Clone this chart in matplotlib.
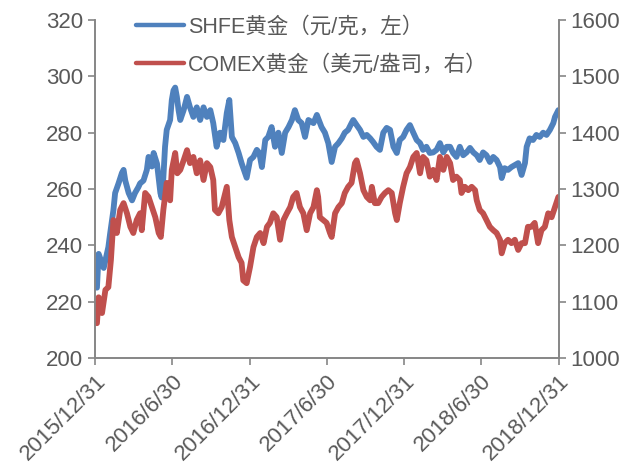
import pandas as pd
import matplotlib
matplotlib.use("Agg")
import matplotlib.pyplot as plt

plt.rcParams['font.family'] = ['Liberation Sans', 'Noto Sans CJK SC', 'DejaVu Sans']

# SHFE gold, yuan/gram (left axis)
shfe_dates = [
    "2016-01-04", "2016-01-08", "2016-01-20", "2016-01-31", "2016-02-04", "2016-02-12",
    "2016-02-16", "2016-02-24", "2016-03-03", "2016-03-07", "2016-03-11", "2016-03-19",
    "2016-03-27", "2016-04-03", "2016-04-11", "2016-04-15", "2016-04-23", "2016-05-01",
    "2016-05-05", "2016-05-13", "2016-05-17", "2016-05-25", "2016-06-02", "2016-06-05",
    "2016-06-09", "2016-06-13", "2016-06-17", "2016-06-25", "2016-06-29", "2016-07-03",
    "2016-07-07", "2016-07-11", "2016-07-15", "2016-07-19", "2016-07-27", "2016-08-04",
    "2016-08-11", "2016-08-19", "2016-08-27", "2016-09-04", "2016-09-12", "2016-09-20",
    "2016-09-28", "2016-10-05", "2016-10-13", "2016-10-21", "2016-10-29", "2016-11-06",
    "2016-11-12", "2016-11-18", "2016-11-26", "2016-12-04", "2016-12-11", "2016-12-19",
    "2016-12-23", "2016-12-31", "2017-01-08", "2017-01-16", "2017-01-22", "2017-01-28",
    "2017-02-05", "2017-02-12", "2017-02-20", "2017-02-28", "2017-03-08", "2017-03-16",
    "2017-03-24", "2017-04-01", "2017-04-09", "2017-04-16", "2017-04-24", "2017-05-02",
    "2017-05-10", "2017-05-18", "2017-05-30", "2017-06-07", "2017-06-18", "2017-06-26",
    "2017-07-04", "2017-07-12", "2017-07-20", "2017-07-28", "2017-08-05", "2017-08-12",
    "2017-08-20", "2017-08-28", "2017-09-01", "2017-09-09", "2017-09-17", "2017-09-25",
    "2017-10-03", "2017-10-11", "2017-10-18", "2017-10-26", "2017-11-03", "2017-11-11",
    "2017-11-19", "2017-11-27", "2017-12-05", "2017-12-13", "2017-12-20", "2017-12-28",
    "2018-01-05", "2018-01-13", "2018-01-21", "2018-01-29", "2018-02-06", "2018-02-13",
    "2018-02-21", "2018-03-01", "2018-03-09", "2018-03-17", "2018-03-25", "2018-04-02",
    "2018-04-10", "2018-04-18", "2018-04-25", "2018-05-03", "2018-05-11", "2018-05-19",
    "2018-05-27", "2018-06-04", "2018-06-12", "2018-06-20", "2018-06-27", "2018-07-05",
    "2018-07-13", "2018-07-21", "2018-07-29", "2018-08-06", "2018-08-14", "2018-08-18",
    "2018-08-25", "2018-09-02", "2018-09-10", "2018-09-18", "2018-09-26", "2018-10-04",
    "2018-10-12", "2018-10-16", "2018-10-23", "2018-10-31", "2018-11-08", "2018-11-16",
    "2018-11-24", "2018-12-02", "2018-12-10", "2018-12-18", "2018-12-22", "2018-12-30",
]
shfe_values = [
    225.0, 237.0, 232.0, 239.4, 244.0, 252.6,
    258.6, 262.0, 265.7, 266.8, 263.0, 258.6,
    256.0, 258.6, 260.7, 262.0, 263.0, 266.8,
    271.4, 268.0, 272.8, 269.0, 258.6, 257.0,
    264.0, 275.0, 281.0, 284.5, 291.6, 295.0,
    296.0, 292.7, 288.0, 284.5, 288.0, 292.7,
    289.0, 285.6, 289.0, 284.5, 289.0, 285.6,
    288.0, 283.4, 275.0, 280.0, 277.4, 287.0,
    291.6, 278.5, 276.3, 272.8, 269.2, 265.7,
    264.0, 270.3, 271.4, 273.9, 272.8, 267.8,
    277.4, 278.5, 282.0, 275.0, 280.0, 272.8,
    280.0, 282.0, 284.5, 288.0, 284.5, 283.4,
    278.5, 284.5, 283.4, 286.3, 282.0, 280.0,
    276.3, 269.6, 275.0, 276.3, 278.0, 280.0,
    281.0, 283.4, 284.5, 282.7, 281.0, 278.5,
    279.2, 278.0, 276.7, 275.0, 273.9, 280.0,
    281.7, 281.0, 275.0, 272.8, 277.4, 278.5,
    281.0, 282.7, 280.0, 277.4, 276.3, 273.9,
    275.0, 272.8, 273.0, 273.9, 276.3, 273.0,
    275.0, 275.0, 272.8, 271.4, 275.0, 272.0,
    273.0, 274.6, 273.0, 272.0, 270.3, 273.0,
    272.0, 269.6, 271.4, 270.3, 267.8, 263.9,
    267.4, 266.8, 267.8, 268.5, 269.2, 265.0,
    269.2, 275.0, 278.0, 277.4, 279.2, 278.5,
    280.0, 279.2, 281.0, 283.4, 285.6, 288.0,
]

# COMEX gold, USD/oz (right axis)
comex_dates = [
    "2016-01-04", "2016-01-08", "2016-01-16", "2016-01-24", "2016-01-31", "2016-02-06",
    "2016-02-12", "2016-02-20", "2016-02-28", "2016-03-07", "2016-03-15", "2016-03-23",
    "2016-03-30", "2016-04-07", "2016-04-15", "2016-04-19", "2016-04-27", "2016-05-05",
    "2016-05-13", "2016-05-21", "2016-05-29", "2016-06-03", "2016-06-09", "2016-06-17",
    "2016-06-25", "2016-06-29", "2016-07-07", "2016-07-12", "2016-07-19", "2016-07-27",
    "2016-08-04", "2016-08-11", "2016-08-19", "2016-08-27", "2016-09-04", "2016-09-12",
    "2016-09-20", "2016-09-28", "2016-10-05", "2016-10-09", "2016-10-17", "2016-10-25",
    "2016-11-06", "2016-11-12", "2016-11-18", "2016-11-26", "2016-12-04", "2016-12-11",
    "2016-12-15", "2016-12-23", "2016-12-31", "2017-01-08", "2017-01-16", "2017-01-24",
    "2017-02-01", "2017-02-09", "2017-02-16", "2017-02-24", "2017-03-04", "2017-03-12",
    "2017-03-20", "2017-03-28", "2017-04-05", "2017-04-12", "2017-04-20", "2017-04-28",
    "2017-05-06", "2017-05-14", "2017-05-22", "2017-05-30", "2017-06-07", "2017-06-10",
    "2017-06-14", "2017-06-22", "2017-06-30", "2017-07-08", "2017-07-12", "2017-07-20",
    "2017-07-28", "2017-08-05", "2017-08-12", "2017-08-20", "2017-08-28", "2017-09-05",
    "2017-09-09", "2017-09-17", "2017-09-25", "2017-10-03", "2017-10-11", "2017-10-15",
    "2017-10-22", "2017-10-30", "2017-11-07", "2017-11-15", "2017-11-23", "2017-12-01",
    "2017-12-09", "2017-12-13", "2017-12-20", "2017-12-28", "2018-01-05", "2018-01-13",
    "2018-01-21", "2018-01-29", "2018-02-06", "2018-02-13", "2018-02-21", "2018-03-01",
    "2018-03-09", "2018-03-17", "2018-03-25", "2018-04-02", "2018-04-10", "2018-04-18",
    "2018-04-25", "2018-05-03", "2018-05-11", "2018-05-15", "2018-05-23", "2018-05-31",
    "2018-06-08", "2018-06-16", "2018-06-20", "2018-06-27", "2018-07-05", "2018-07-13",
    "2018-07-21", "2018-07-29", "2018-08-06", "2018-08-14", "2018-08-18", "2018-08-25",
    "2018-09-02", "2018-09-10", "2018-09-18", "2018-09-26", "2018-10-04", "2018-10-12",
    "2018-10-19", "2018-10-27", "2018-11-04", "2018-11-12", "2018-11-20", "2018-11-28",
    "2018-12-06", "2018-12-14", "2018-12-22", "2018-12-30",
]
comex_values = [
    1062, 1108, 1080, 1121, 1126, 1174,
    1245, 1222, 1263, 1275, 1257, 1233,
    1222, 1245, 1257, 1227, 1293, 1286,
    1268, 1250, 1222, 1215, 1263, 1311,
    1280, 1334, 1364, 1328, 1334, 1351,
    1369, 1346, 1357, 1328, 1351, 1316,
    1346, 1339, 1316, 1263, 1257, 1268,
    1304, 1245, 1215, 1197, 1179, 1169,
    1138, 1133, 1162, 1197, 1215, 1222,
    1204, 1233, 1240, 1257, 1250, 1210,
    1245, 1257, 1268, 1286, 1293, 1268,
    1257, 1227, 1257, 1268, 1298, 1286,
    1250, 1245, 1240, 1222, 1215, 1257,
    1268, 1275, 1293, 1304, 1311, 1346,
    1351, 1328, 1298, 1286, 1280, 1304,
    1275, 1275, 1286, 1293, 1298, 1293,
    1257, 1245, 1275, 1304, 1328, 1339,
    1357, 1364, 1328, 1357, 1351, 1322,
    1334, 1316, 1357, 1334, 1357, 1346,
    1316, 1322, 1316, 1293, 1304, 1298,
    1304, 1298, 1280, 1263, 1257, 1245,
    1233, 1227, 1222, 1210, 1186, 1204,
    1210, 1204, 1210, 1192, 1204, 1204,
    1233, 1233, 1240, 1204, 1227, 1233,
    1257, 1250, 1268, 1286,
]

tick_dates = ["2015-12-31", "2016-06-30", "2016-12-31", "2017-06-30",
              "2017-12-31", "2018-06-30", "2018-12-31"]
tick_labels = ["2015/12/31", "2016/6/30", "2016/12/31", "2017/6/30",
               "2017/12/31", "2018/6/30", "2018/12/31"]

blue = "#4F81BD"
red = "#C0504D"
grey = "#868686"
text_col = "#595959"

fig, ax = plt.subplots(figsize=(6.35, 4.75), dpi=100)
fig.subplots_adjust(left=0.150, right=0.880, top=0.958, bottom=0.246)
ax2 = ax.twinx()

l1, = ax.plot(pd.to_datetime(shfe_dates), shfe_values, color=blue, lw=4.2,
              solid_capstyle='round', solid_joinstyle='round',
              label="SHFE黄金（元/克，左）")
l2, = ax2.plot(pd.to_datetime(comex_dates), comex_values, color=red, lw=4.2,
               solid_capstyle='round', solid_joinstyle='round',
               label="COMEX黄金（美元/盎司，右）")

ax.set_xlim(pd.Timestamp("2015-12-31"), pd.Timestamp("2018-12-31"))
ax.set_ylim(200, 320)
ax2.set_ylim(1000, 1600)
ax.set_yticks(range(200, 321, 20))
ax2.set_yticks(range(1000, 1601, 100))
ax.set_xticks(pd.to_datetime(tick_dates))
ax.set_xticklabels(tick_labels, rotation=45, ha='right', rotation_mode='anchor')

for a in (ax, ax2):
    a.spines['top'].set_visible(False)
    for s in ('left', 'right', 'bottom'):
        a.spines[s].set_color(grey)
        a.spines[s].set_linewidth(1.2)
    a.tick_params(colors=grey, labelcolor=text_col, labelsize=16, length=5, width=1.2)
ax.tick_params(axis='x', pad=4)

leg = ax.legend(handles=[l1, l2], loc='upper left', bbox_to_anchor=(0.07, 1.035),
                frameon=False, fontsize=15.5, handlelength=2.2, handletextpad=0.2,
                labelspacing=0.8, borderaxespad=0)
for t in leg.get_texts():
    t.set_color(text_col)
for h in leg.get_lines():
    h.set_linewidth(3.2)

fig.savefig("out.png", dpi=100)
